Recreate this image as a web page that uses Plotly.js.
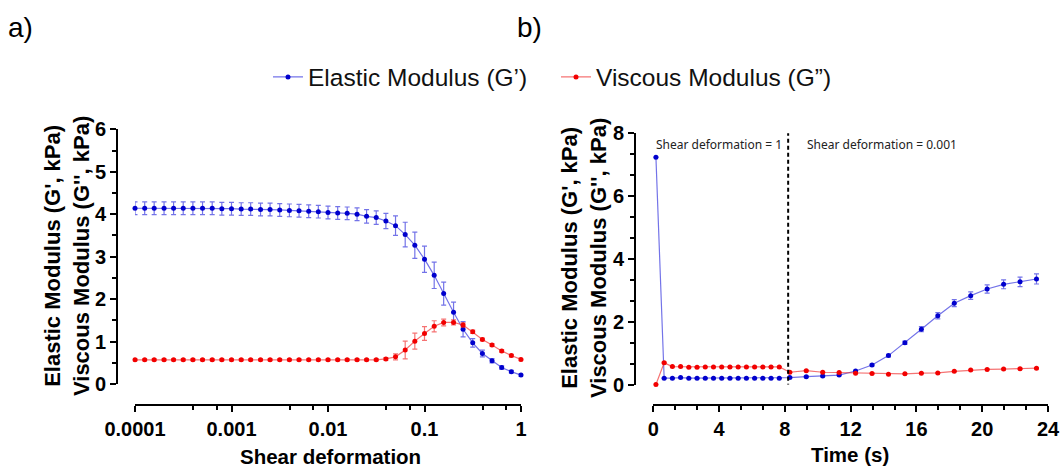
<!DOCTYPE html>
<html>
<head>
<meta charset="utf-8">
<script src="https://cdn.plot.ly/plotly-3.0.1.min.js"></script>
<style>html,body{margin:0;padding:0;background:#fff;}#chart{width:1062px;height:472px;}</style>
</head>
<body>
<div id="chart"></div>
<script>
// ---- Panel a: amplitude sweep ----
const strain = [0.0001, 0.000126, 0.000158, 0.0002, 0.000251, 0.000316, 0.000398, 0.000501, 0.000631, 0.000794,
  0.001, 0.00126, 0.00158, 0.002, 0.00251, 0.00316, 0.00398, 0.00501, 0.00631, 0.00794,
  0.01, 0.0126, 0.0158, 0.02, 0.0251, 0.0316, 0.0398, 0.0501, 0.0631, 0.0794,
  0.1, 0.126, 0.158, 0.2, 0.251, 0.316, 0.398, 0.501, 0.631, 0.794, 1];
const gElasticA = [4.14, 4.14, 4.14, 4.14, 4.14, 4.14, 4.14, 4.14, 4.14, 4.13,
  4.13, 4.12, 4.12, 4.11, 4.11, 4.10, 4.09, 4.08, 4.07, 4.06,
  4.04, 4.03, 4.02, 4.00, 3.95, 3.92, 3.84, 3.73, 3.52, 3.27,
  2.94, 2.56, 2.13, 1.69, 1.29, 0.97, 0.72, 0.55, 0.39, 0.29, 0.21];
const gElasticAErr = [0.15, 0.15, 0.15, 0.15, 0.15, 0.15, 0.15, 0.15, 0.15, 0.15,
  0.15, 0.15, 0.15, 0.15, 0.15, 0.15, 0.15, 0.15, 0.15, 0.15,
  0.15, 0.15, 0.15, 0.15, 0.16, 0.16, 0.18, 0.23, 0.29, 0.31,
  0.31, 0.31, 0.27, 0.24, 0.18, 0.10, 0.08, 0.05, 0.04, 0.03, 0.03];
const gViscousA = [0.57, 0.57, 0.57, 0.57, 0.57, 0.57, 0.57, 0.57, 0.57, 0.57,
  0.57, 0.57, 0.57, 0.57, 0.57, 0.57, 0.57, 0.57, 0.57, 0.57,
  0.57, 0.57, 0.57, 0.57, 0.57, 0.57, 0.59, 0.64, 0.80, 1.01,
  1.19, 1.36, 1.45, 1.45, 1.39, 1.23, 1.05, 0.92, 0.78, 0.67, 0.58];
const gViscousAErr = [0.02, 0.02, 0.02, 0.02, 0.02, 0.02, 0.02, 0.02, 0.02, 0.02,
  0.02, 0.02, 0.02, 0.02, 0.02, 0.02, 0.02, 0.02, 0.02, 0.02,
  0.02, 0.02, 0.02, 0.02, 0.02, 0.02, 0.03, 0.07, 0.21, 0.19,
  0.16, 0.13, 0.08, 0.06, 0.05, 0.04, 0.03, 0.03, 0.03, 0.03, 0.03];
const strainTickVals = [0.0001, 0.001, 0.01, 0.1, 1];
const strainTickText = ['0.0001', '0.001', '0.01', '0.1', '1'];
const strainMinorVals = [0.0004, 0.0007, 0.004, 0.007, 0.04, 0.07, 0.4, 0.7];

// ---- Panel b: recovery over time ----
const time = [0.16, 0.66, 1.16, 1.66, 2.16, 2.66, 3.16, 3.66, 4.16, 4.66, 5.16, 5.66, 6.16, 6.66, 7.16, 7.66,
  8.3, 9.3, 10.3, 11.3, 12.3, 13.3, 14.3, 15.3, 16.3, 17.3, 18.3, 19.3, 20.3, 21.3, 22.3, 23.3];
const gElasticB = [7.24, 0.20, 0.20, 0.22, 0.20, 0.20, 0.20, 0.20, 0.20, 0.20, 0.20, 0.20, 0.20, 0.20, 0.20, 0.20,
  0.22, 0.25, 0.27, 0.30, 0.43, 0.62, 0.92, 1.33, 1.76, 2.19, 2.59, 2.83, 3.04, 3.19, 3.27, 3.36];
const gElasticBErr = [0, 0.01, 0.01, 0.01, 0.01, 0.01, 0.01, 0.01, 0.01, 0.01, 0.01, 0.01, 0.01, 0.01, 0.01, 0.01,
  0.02, 0.02, 0.02, 0.02, 0.02, 0.03, 0.04, 0.05, 0.08, 0.10, 0.11, 0.12, 0.13, 0.14, 0.15, 0.16];
const gViscousB = [0.00, 0.69, 0.57, 0.57, 0.55, 0.55, 0.56, 0.56, 0.56, 0.56, 0.56, 0.56, 0.56, 0.56, 0.56, 0.56,
  0.39, 0.44, 0.39, 0.38, 0.36, 0.35, 0.33, 0.34, 0.36, 0.37, 0.42, 0.46, 0.48, 0.49, 0.50, 0.52];
const gViscousBErr = [0, 0.02, 0.01, 0.01, 0.01, 0.01, 0.01, 0.01, 0.01, 0.01, 0.01, 0.01, 0.01, 0.01, 0.01, 0.01,
  0.01, 0.01, 0.01, 0.01, 0.01, 0.01, 0.01, 0.01, 0.01, 0.01, 0.01, 0.01, 0.01, 0.02, 0.02, 0.02];
const switchTime = 8.2;

const seriesNames = ["Elastic Modulus (G’)", "Viscous Modulus (G”)"];
const yTitle = "Elastic Modulus (G', kPa)<br>Viscous Modulus (G'', kPa)";

// ---- layout helpers (pixel -> paper, margins are 0) ----
const W = 1062, H = 472;
const px = v => v / W;
const py = v => 1 - v / H;

const BLUE = '#0000cd', BLUE_L = 'rgba(40,40,220,0.65)';
const RED = '#f20000', RED_L = 'rgba(240,40,40,0.65)';
const FONT = 'Arial, "Liberation Sans", sans-serif';

function series(x, y, err, name, mc, lc, xa, ya, show) {
  return {
    type: 'scatter', mode: 'lines+markers', x: x, y: y, name: name,
    xaxis: xa, yaxis: ya, showlegend: show, cliponaxis: false,
    line: {color: lc, width: 1.2},
    marker: {color: mc, size: 5, symbol: 'circle'},
    error_y: {type: 'data', array: err, visible: true, color: lc, thickness: 1.2, width: 2.5}
  };
}

const traces = [
  series(strain, gElasticA, gElasticAErr, seriesNames[0], BLUE, BLUE_L, 'x', 'y', true),
  series(strain, gViscousA, gViscousAErr, seriesNames[1], RED, RED_L, 'x', 'y', true),
  series(time, gElasticB, gElasticBErr, seriesNames[0], BLUE, BLUE_L, 'x2', 'y2', false),
  series(time, gViscousB, gViscousBErr, seriesNames[1], RED, RED_L, 'x2', 'y2', false)
];

const tickFont = {family: FONT, size: 20, color: '#000', weight: 700};
const axisBase = {
  showgrid: false, zeroline: false, showline: true, linecolor: '#000', linewidth: 2,
  ticks: 'outside', ticklen: 6, tickwidth: 2, tickcolor: '#000', tickfont: tickFont,
  fixedrange: true
};

const layout = {
  width: W, height: H,
  margin: {l: 0, r: 0, t: 0, b: 0, pad: 0},
  paper_bgcolor: '#fff', plot_bgcolor: 'rgba(0,0,0,0)',
  font: {family: FONT, color: '#000'},
  showlegend: true,
  legend: {
    orientation: 'h', x: px(268), xanchor: 'left', y: py(77), yanchor: 'middle',
    font: {family: FONT, size: 24.5, color: '#111'}, itemwidth: 30,
    entrywidth: 243, entrywidthmode: 'pixels',
    bgcolor: 'rgba(0,0,0,0)'
  },
  xaxis: Object.assign({}, axisBase, {
    type: 'log', domain: [px(135), px(521)], range: [-4, 0], anchor: 'free', position: py(405),
    tickmode: 'array', tickvals: strainTickVals, ticktext: strainTickText,
    minor: {tickmode: 'array', tickvals: strainMinorVals, ticklen: 4, tickwidth: 2, tickcolor: '#000', ticks: 'outside'}
  }),
  yaxis: Object.assign({}, axisBase, {
    domain: [py(384), py(129.3)], range: [0, 6], anchor: 'free', position: px(117),
    tickmode: 'linear', tick0: 0, dtick: 1,
    minor: {dtick: 0.5, ticklen: 4, tickwidth: 2, tickcolor: '#000', ticks: 'outside'}
  }),
  xaxis2: Object.assign({}, axisBase, {
    domain: [px(653.3), px(1048)], range: [0, 24], anchor: 'free', position: py(405),
    tickmode: 'linear', tick0: 0, dtick: 4,
    minor: {dtick: 4 / 3, ticklen: 4, tickwidth: 2, tickcolor: '#000', ticks: 'outside'}
  }),
  yaxis2: Object.assign({}, axisBase, {
    domain: [py(384.5), py(133.3)], range: [0, 8], anchor: 'free', position: px(635),
    tickmode: 'linear', tick0: 0, dtick: 2,
    minor: {dtick: 2 / 3, ticklen: 4, tickwidth: 2, tickcolor: '#000', ticks: 'outside'}
  }),
  shapes: [{
    type: 'line', xref: 'x2', yref: 'y2', x0: switchTime, x1: switchTime, y0: -0.33, y1: 8.26,
    line: {color: '#000', width: 2, dash: '4px,3px'}
  }],
  annotations: [
    {text: 'a)', xref: 'paper', yref: 'paper', x: px(6), y: py(28), xanchor: 'left', yanchor: 'middle',
      showarrow: false, font: {family: FONT, size: 28, color: '#000'}},
    {text: 'b)', xref: 'paper', yref: 'paper', x: px(515), y: py(28), xanchor: 'left', yanchor: 'middle',
      showarrow: false, font: {family: FONT, size: 28, color: '#000'}},
    {text: yTitle, xref: 'paper', yref: 'paper', x: px(67), y: py(256), xanchor: 'center', yanchor: 'middle',
      textangle: -90, showarrow: false, font: {family: FONT, size: 22, color: '#000', weight: 700}},
    {text: yTitle, xref: 'paper', yref: 'paper', x: px(584), y: py(258), xanchor: 'center', yanchor: 'middle',
      textangle: -90, showarrow: false, font: {family: FONT, size: 22, color: '#000', weight: 700}},
    {text: 'Shear deformation', xref: 'paper', yref: 'paper', x: px(330), y: py(456), xanchor: 'center', yanchor: 'middle',
      showarrow: false, font: {family: FONT, size: 20.5, color: '#000', weight: 700}},
    {text: 'Time (s)', xref: 'paper', yref: 'paper', x: px(850), y: py(454), xanchor: 'center', yanchor: 'middle',
      showarrow: false, font: {family: FONT, size: 20.5, color: '#000', weight: 700}},
    {text: 'Shear deformation = 1', xref: 'paper', yref: 'paper', x: px(654), y: py(145), xanchor: 'left', yanchor: 'middle',
      showarrow: false, font: {family: '"Noto Sans", sans-serif', size: 12, color: '#222'}},
    {text: 'Shear deformation = 0.001', xref: 'paper', yref: 'paper', x: px(805), y: py(145), xanchor: 'left', yanchor: 'middle',
      showarrow: false, font: {family: '"Noto Sans", sans-serif', size: 12, color: '#222'}}
  ]
};

Plotly.newPlot('chart', traces, layout, {displayModeBar: false, staticPlot: true});
</script>
</body>
</html>
